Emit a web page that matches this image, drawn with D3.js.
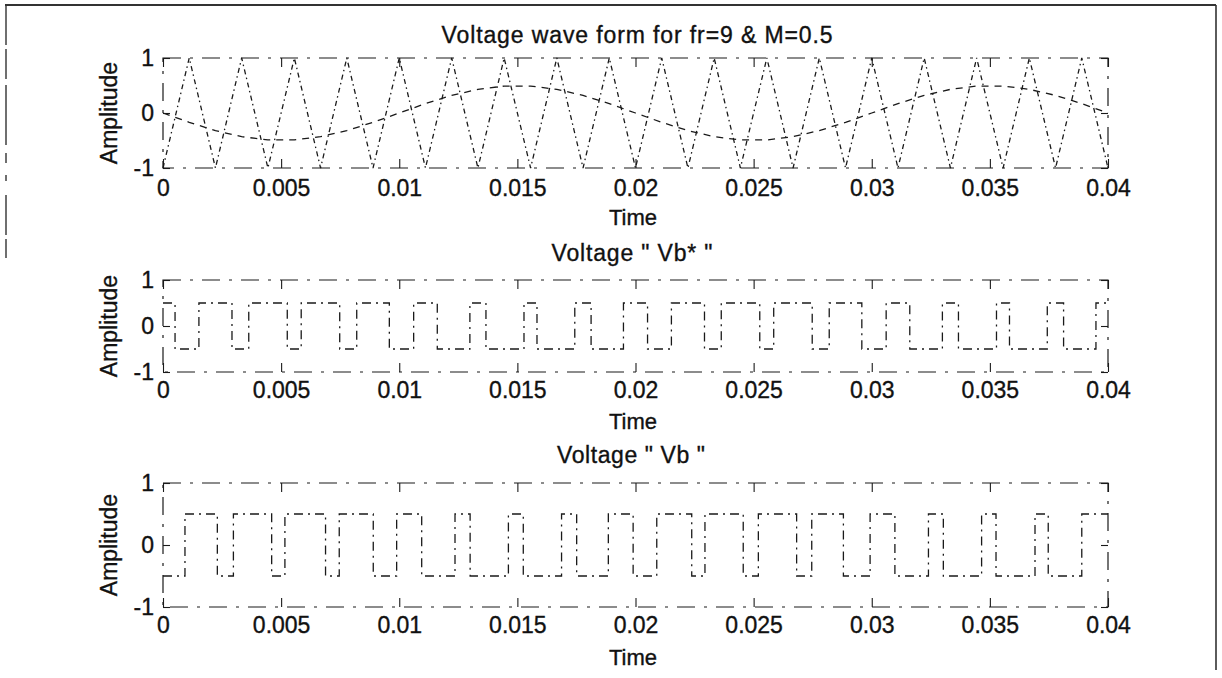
<!DOCTYPE html>
<html><head><meta charset="utf-8">
<script src="https://cdn.jsdelivr.net/npm/d3@7"></script>
<style>
html,body{margin:0;padding:0;background:#fff;}
svg{display:block;}
text{font-family:"Liberation Sans",Arial,Helvetica,sans-serif;fill:#111;stroke:#111;stroke-width:0.35px;}
</style></head><body>
<svg id="chart" width="1222" height="678"></svg>
<script>
// ---------- data ----------
const xTicks = [0, 0.005, 0.01, 0.015, 0.02, 0.025, 0.03, 0.035, 0.04];
const xTickLabels = ["0", "0.005", "0.01", "0.015", "0.02", "0.025", "0.03", "0.035", "0.04"];
const yTicks = [-1, 0, 1];
const yTickLabels = ["-1", "0", "1"];
const titles = ["Voltage wave form for fr=9 & M=0.5", "Voltage \" Vb* \"", "Voltage \" Vb \""];
const xLabel = "Time";
const yLabel = "Amplitude";

// carrier (triangle) vertices
const carrierTime = [0, 0.00111, 0.00222, 0.00333, 0.00444, 0.00556, 0.00667, 0.00778, 0.00889, 0.01,
  0.01111, 0.01222, 0.01333, 0.01444, 0.01556, 0.01667, 0.01778, 0.01889, 0.02,
  0.02111, 0.02222, 0.02333, 0.02444, 0.02556, 0.02667, 0.02778, 0.02889, 0.03,
  0.03111, 0.03222, 0.03333, 0.03444, 0.03556, 0.03667, 0.03778, 0.03889, 0.04];
const carrierValue = [-1, 1, -1, 1, -1, 1, -1, 1, -1, 1, -1, 1, -1, 1, -1, 1, -1, 1, -1,
  1, -1, 1, -1, 1, -1, 1, -1, 1, -1, 1, -1, 1, -1, 1, -1, 1, -1];
// reference sine, sampled at the same instants
const referenceValue = [0, -0.17, -0.32, -0.43, -0.49, -0.49, -0.43, -0.32, -0.17, 0,
  0.17, 0.32, 0.43, 0.49, 0.49, 0.43, 0.32, 0.17, 0,
  -0.17, -0.32, -0.43, -0.49, -0.49, -0.43, -0.32, -0.17, 0,
  0.17, 0.32, 0.43, 0.49, 0.49, 0.43, 0.32, 0.17, 0];

// Vb* switching instants and levels
const vbStarTime = [0, 0.00051, 0.00152, 0.00292, 0.00363, 0.00526, 0.00585, 0.00748, 0.0082, 0.00958,
  0.01061, 0.01161, 0.01299, 0.01367, 0.01528, 0.01583, 0.01743, 0.01812, 0.01949, 0.02051,
  0.02152, 0.02292, 0.02363, 0.02526, 0.02585, 0.02748, 0.0282, 0.02958, 0.03061, 0.03161,
  0.03299, 0.03367, 0.03528, 0.03583, 0.03743, 0.03812, 0.03949];
const vbStarLevel = [0.5, -0.5, 0.5, -0.5, 0.5, -0.5, 0.5, -0.5, 0.5, -0.5,
  0.5, -0.5, 0.5, -0.5, 0.5, -0.5, 0.5, -0.5, 0.5, -0.5,
  0.5, -0.5, 0.5, -0.5, 0.5, -0.5, 0.5, -0.5, 0.5, -0.5,
  0.5, -0.5, 0.5, -0.5, 0.5, -0.5, 0.5];

// Vb switching instants and levels
const vbTime = [0, 0.00093, 0.0023, 0.00298, 0.0046, 0.00516, 0.00688, 0.00746, 0.0089, 0.00989,
  0.01095, 0.01236, 0.013, 0.01462, 0.01525, 0.01687, 0.01751, 0.01885, 0.0199, 0.0209,
  0.02238, 0.02294, 0.02456, 0.0252, 0.02682, 0.02746, 0.0288, 0.02993, 0.03098, 0.0324,
  0.03303, 0.03465, 0.03526, 0.03691, 0.03747, 0.03889];
const vbLevel = [-0.5, 0.5, -0.5, 0.5, -0.5, 0.5, -0.5, 0.5, -0.5, 0.5,
  -0.5, 0.5, -0.5, 0.5, -0.5, 0.5, -0.5, 0.5, -0.5, 0.5,
  -0.5, 0.5, -0.5, 0.5, -0.5, 0.5, -0.5, 0.5, -0.5, 0.5,
  -0.5, 0.5, -0.5, 0.5, -0.5, 0.5];

// ---------- layout ----------
const panels = [
  {top: 58, bottom: 168, titleX: 637, titleY: 43, titleLen: 391, tickPad: 12, timeY: 225},
  {top: 280, bottom: 372, titleX: 632, titleY: 261, titleLen: 161, tickPad: 9.5, timeY: 429},
  {top: 483, bottom: 607, titleX: 631, titleY: 463, titleLen: 148, tickPad: 9.5, timeY: 665}
];
const ink = "#1a1a1a";
const svg = d3.select("#chart");

// outer frame
svg.append("line").attr("x1", 5).attr("y1", 5).attr("x2", 1216).attr("y2", 5)
  .attr("stroke", "#333").attr("stroke-width", 2);
svg.append("line").attr("x1", 1216).attr("y1", 5).attr("x2", 1216).attr("y2", 670)
  .attr("stroke", "#333").attr("stroke-width", 1.6);
svg.append("line").attr("x1", 6).attr("y1", 5).attr("x2", 6).attr("y2", 258)
  .attr("stroke", "#333").attr("stroke-width", 1.4).attr("stroke-dasharray", "40,4,30,6,60,8,10,12,6,14");

const x = d3.scaleLinear().domain([0, 0.04]).range([163, 1108]);

function styleAxis(g, fs) {
  g.select(".domain").remove();
  g.selectAll(".tick line").attr("stroke", ink).attr("stroke-width", 1.1);
  g.selectAll(".tick text").attr("font-size", fs).attr("fill", "#111")
    .attr("font-family", "'Liberation Sans', Arial, sans-serif");
}

const series = [
  [{t: carrierTime, v: carrierValue, dash: "5,3.5,1.5,3.5", curve: d3.curveLinear},
   {t: carrierTime, v: referenceValue, dash: "7,6", curve: d3.curveLinear}],
  [{t: vbStarTime, v: vbStarLevel, dash: "9,5,2,5", curve: d3.curveStepAfter, step: true}],
  [{t: vbTime, v: vbLevel, dash: "9,5,2,5", curve: d3.curveStepAfter, step: true}]
];

panels.forEach((p, i) => {
  const y = d3.scaleLinear().domain([-1, 1]).range([p.bottom, p.top]);
  const g = svg.append("g");

  // axes box (scanned look)
  g.append("rect").attr("x", x(0)).attr("y", y(1))
    .attr("width", x(0.04) - x(0)).attr("height", y(-1) - y(1))
    .attr("fill", "none").attr("stroke", ink).attr("stroke-width", 1.2)
    .attr("stroke-dasharray", "18,9,3,9");

  // bottom axis with labels, inward ticks
  const gb = g.append("g").attr("transform", `translate(0,${y(-1)})`)
    .call(d3.axisBottom(x).tickValues(xTicks).tickFormat((d, j) => xTickLabels[j])
      .tickSize(-9).tickPadding(p.tickPad));
  styleAxis(gb, 23);
  // top axis ticks
  const gt = g.append("g").attr("transform", `translate(0,${y(1)})`)
    .call(d3.axisTop(x).tickValues(xTicks).tickFormat("").tickSize(-9));
  styleAxis(gt, 23);
  // left axis with labels
  const gl = g.append("g").attr("transform", `translate(${x(0)},0)`)
    .call(d3.axisLeft(y).tickValues(yTicks).tickFormat((d, j) => yTickLabels[j])
      .tickSize(-7).tickPadding(9));
  styleAxis(gl, 23);
  // right axis ticks
  const gr = g.append("g").attr("transform", `translate(${x(0.04)},0)`)
    .call(d3.axisRight(y).tickValues(yTicks).tickFormat("").tickSize(-7));
  styleAxis(gr, 23);

  // signals
  series[i].forEach(s => {
    let pts = s.t.map((t, j) => [t, s.v[j]]);
    if (s.step) pts.push([0.04, s.v[s.v.length - 1]]);
    const line = d3.line().x(d => x(d[0])).y(d => y(d[1])).curve(s.curve);
    g.append("path").datum(pts).attr("d", line)
      .attr("fill", "none").attr("stroke", ink).attr("stroke-width", 1.3)
      .attr("stroke-dasharray", s.dash);
  });

  // title
  g.append("text").attr("x", p.titleX).attr("y", p.titleY)
    .attr("text-anchor", "middle").attr("font-size", 23)
    .attr("textLength", p.titleLen).attr("lengthAdjust", "spacing")
    .text(titles[i]);
  // x label
  g.append("text").attr("x", 633).attr("y", p.timeY)
    .attr("text-anchor", "middle").attr("font-size", 22).text(xLabel);
  // y label
  g.append("text")
    .attr("transform", `translate(117,${(p.top + p.bottom) / 2}) rotate(-90)`)
    .attr("text-anchor", "middle").attr("font-size", 23).text(yLabel);
});
</script>
</body></html>
